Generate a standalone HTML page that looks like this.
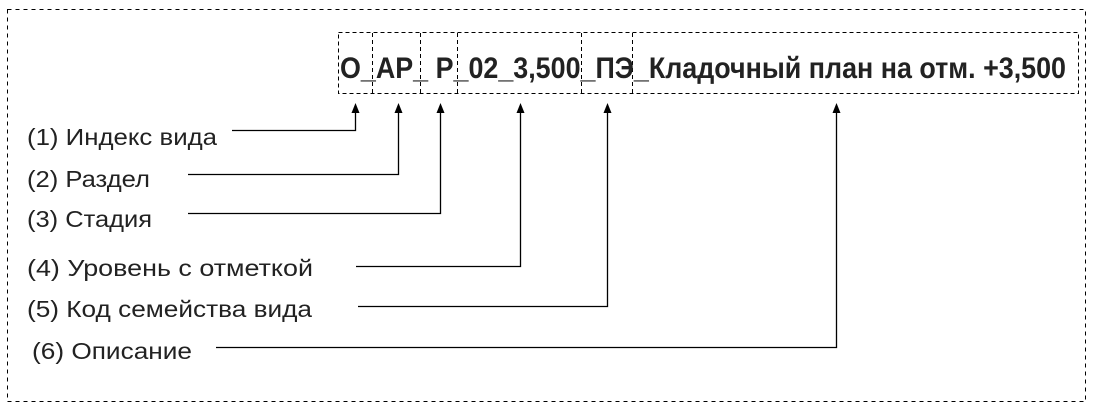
<!DOCTYPE html>
<html><head><meta charset="utf-8"><style>
html,body{margin:0;padding:0;background:#fff;}
svg{display:block;}
text{font-family:"Liberation Sans","DejaVu Sans",sans-serif;fill:#222;}
</style></head><body>
<svg width="1096" height="411" viewBox="0 0 1096 411" xmlns="http://www.w3.org/2000/svg">
<rect x="7.5" y="9.5" width="1078" height="392" fill="none" stroke="#000" stroke-dasharray="4,4"/>
<g fill="none" stroke="#000" stroke-dasharray="4,3">
<rect x="338.5" y="32.5" width="740" height="61"/>
<line x1="372.5" y1="33" x2="372.5" y2="93"/>
<line x1="420.5" y1="33" x2="420.5" y2="93"/>
<line x1="457.5" y1="33" x2="457.5" y2="93"/>
<line x1="581.5" y1="33" x2="581.5" y2="93"/>
<line x1="632.5" y1="33" x2="632.5" y2="93"/>
</g>
<text x="340" y="78" font-size="30" font-weight="bold" fill="#1a1a1a" textLength="726" lengthAdjust="spacingAndGlyphs">O_AP_ P_02_3,500_ПЭ_Кладочный план на отм. +3,500</text>
<g stroke="#000" stroke-width="1.3" fill="none">
<polyline points="232,130.5 355.5,130.5 355.5,112"/>
<polyline points="188,174.5 398.5,174.5 398.5,112"/>
<polyline points="188,213.5 440.5,213.5 440.5,112"/>
<polyline points="356,266.5 520.5,266.5 520.5,112"/>
<polyline points="358,306.5 607.5,306.5 607.5,112"/>
<polyline points="216,347.5 836.5,347.5 836.5,112"/>
</g>
<g fill="#000">
<path d="M351.5,113 L355.5,103 L359.5,113Z"/>
<path d="M394.5,113 L398.5,103 L402.5,113Z"/>
<path d="M436.5,113 L440.5,103 L444.5,113Z"/>
<path d="M516.5,113 L520.5,103 L524.5,113Z"/>
<path d="M603.5,113 L607.5,103 L611.5,113Z"/>
<path d="M832.5,113 L836.5,103 L840.5,113Z"/>
</g>
<g font-size="23" style="fill:#333">
<text x="27" y="145" textLength="190" lengthAdjust="spacingAndGlyphs">(1) Индекс вида</text>
<text x="27" y="187" textLength="123" lengthAdjust="spacingAndGlyphs">(2) Раздел</text>
<text x="27" y="227" textLength="125" lengthAdjust="spacingAndGlyphs">(3) Стадия</text>
<text x="27" y="276" textLength="286" lengthAdjust="spacingAndGlyphs">(4) Уровень с отметкой</text>
<text x="27" y="317" textLength="285" lengthAdjust="spacingAndGlyphs">(5) Код семейства вида</text>
<text x="32" y="359" textLength="160" lengthAdjust="spacingAndGlyphs">(6) Описание</text>
</g>
</svg>
</body></html>
